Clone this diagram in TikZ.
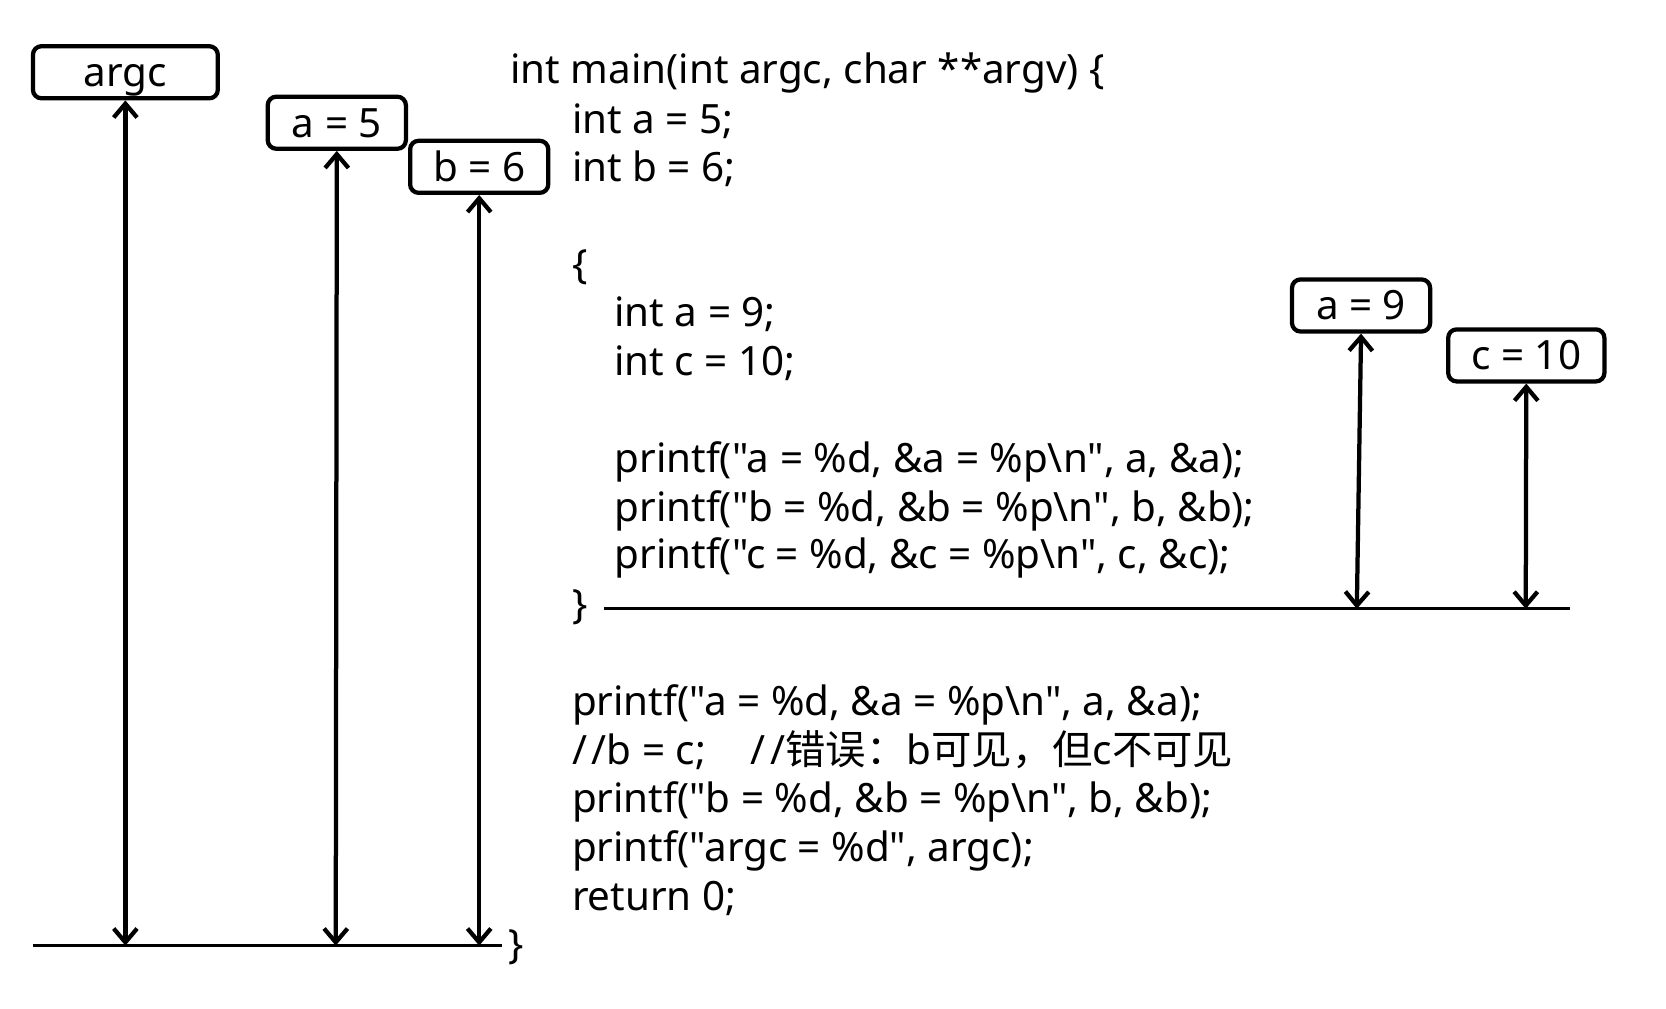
\documentclass[tikz,border=0pt]{standalone}
\usepackage{fontspec}
\setmainfont{Noto Sans}[Ligatures=TeXOff]
\newfontfamily\cjkfont{Noto Sans CJK SC}
\usetikzlibrary{arrows.meta}
\begin{document}
\begin{tikzpicture}[x=0.5pt,y=-0.5pt, font=\fontsize{19}{23}\selectfont,
 var/.style={draw, line width=2pt, rounded corners=4pt, inner sep=0pt, minimum height=24.5pt, text height=18pt, text depth=4.5pt},
 code/.style={anchor=base west, inner sep=0pt},
 life/.style={line width=2pt, {Straight Barb[length=6.5pt,width=11pt]}-{Straight Barb[length=6.5pt,width=11pt]}},
 scopeline/.style={line width=1.25pt}]
\useasboundingbox (0,0) rectangle (1568,949);
% variable boxes
\node[var, minimum width=87pt] (argc) at (118,68) {argc};
\node[var, minimum width=65pt] (a5) at (317,115.5) {a = 5};
\node[var, minimum width=65pt] (b6) at (451,157) {b = 6};
\node[var, minimum width=65pt] (a9) at (1281,287.5) {a = 9};
\node[var, minimum width=73.5pt] (c10) at (1436.5,334.5) {c = 10};
% scope lines
\coordinate (outerL) at (31,890); \coordinate (outerR) at (472,890);
\coordinate (innerL) at (568,573); \coordinate (innerR) at (1478,573);
\draw[scopeline] (outerL) -- (outerR);
\draw[scopeline] (innerL) -- (innerR);
% lifetime arrows
\coordinate (argcEnd) at (118,890);
\coordinate (a5End) at (316,890);
\coordinate (b6End) at (451,890);
\coordinate (a9End) at (1277,573);
\coordinate (c10End) at (1436,573);
\draw[life] (argc.south) -- (argcEnd);
\draw[life] (a5.south) -- (a5End);
\draw[life] (b6.south) -- (b6End);
\draw[life] (a9.south) -- (a9End);
\draw[life] (c10.south) -- (c10End);
% code
\node[code] (l1) at (480,78.5) {int main(int argc, char **argv) \{};
\node[code] (l2) at (538,125.5) {int a = 5;};
\node[code] (l3) at (538,170.5) {int b = 6;};
\node[code] (l4) at (538,262.5) {\{};
\node[code] (l5) at (578,307.5) {int a = 9;};
\node[code] (l6) at (578,353.5) {int c = 10;};
\node[code] (l7) at (578,444.5) {printf("a = \%d, \&a = \%p\textbackslash n", a, \&a);};
\node[code] (l8) at (578,490.5) {printf("b = \%d, \&b = \%p\textbackslash n", b, \&b);};
\node[code] (l9) at (578,535.5) {printf("c = \%d, \&c = \%p\textbackslash n", c, \&c);};
\node[code] (l10) at (538,582.5) {\}};
\node[code] (l11) at (538,673.5) {printf("a = \%d, \&a = \%p\textbackslash n", a, \&a);};
\node[code] (l12) at (538,719.5) {/\kern0.12em/b = c;\hspace{1.1em}/\kern0.12em/{\cjkfont 错误：}b{\cjkfont 可见，但}c{\cjkfont 不可见}};
\node[code] (l13) at (538,764.5) {printf("b = \%d, \&b = \%p\textbackslash n", b, \&b);};
\node[code] (l14) at (538,810.5) {printf("argc = \%d", argc);};
\node[code] (l15) at (538,856.5) {return 0;};
\node[code] (l16) at (478,902.5) {\}};
\end{tikzpicture}
\end{document}
